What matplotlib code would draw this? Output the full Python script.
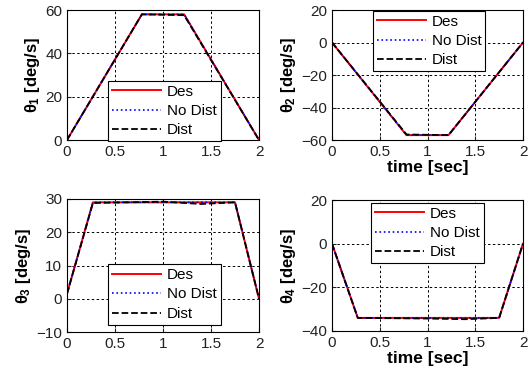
import matplotlib.pyplot as plt

# tempo dos pontos de quebra (s)
t1 = [0, 0.78, 1.22, 2.0]
des1 = [0, 58, 58, 0]
nod1 = [0, 58, 58, 0]
dis1 = [0, 58, 57.6, 0]

t2 = [0, 0.78, 1.22, 2.0]
des2 = [0, -57, -57, 0]
nod2 = [0, -57, -57, 0]
dis2 = [0, -56.6, -57, 0]

t3 = [0, 0.27, 1.0, 1.4, 1.75, 2.0]
des3 = [1.5, 29, 29, 29, 29, 0]
nod3 = [1.5, 29, 29, 29, 29, 0]
dis3 = [1.5, 28.8, 29.2, 28.5, 29, 0]

t4 = [0, 0.27, 1.0, 1.4, 1.75, 2.0]
des4 = [0, -34, -34, -34, -34, 0]
nod4 = [0, -34, -34, -34, -34, 0]
dis4 = [0, -34, -34.3, -34.6, -34, 0]

plt.rcParams['font.family'] = ['Liberation Sans', 'DejaVu Sans']
plt.rcParams['mathtext.fontset'] = 'custom'
plt.rcParams['mathtext.rm'] = 'Liberation Sans:bold'
plt.rcParams['mathtext.it'] = 'Liberation Sans:bold'
plt.rcParams['mathtext.bf'] = 'Liberation Sans:bold'

fig = plt.figure(figsize=(5.32, 3.69), dpi=100)
W, H = 532, 369

def eixo(x0, y0, x1, y1):
    return fig.add_axes([x0 / W, 1 - y1 / H, (x1 - x0) / W, (y1 - y0) / H])

paineis = [
    (eixo(67, 10, 259, 140), t1, des1, nod1, dis1, (0, 60), [0, 20, 40, 60], 1, False, (110, 82, 219, 140)),
    (eixo(332, 10, 523, 140), t2, des2, nod2, dis2, (-60, 20), [-60, -40, -20, 0, 20], 2, True, (375, 12, 483, 70)),
    (eixo(67, 199, 259, 332), t3, des3, nod3, dis3, (-10, 30), [-10, 0, 10, 20, 30], 3, False, (107, 266, 222, 323)),
    (eixo(332, 200, 523, 331), t4, des4, nod4, dis4, (-40, 20), [-40, -20, 0, 20], 4, True, (373, 203, 482, 263)),
]

for ax, t, d, n, s, ylim, yt, k, xl, leg in paineis:
    ax.plot(t, d, color='red', lw=1.4, label='Des')
    ax.plot(t, n, color='blue', lw=1.2, linestyle=':', label='No Dist')
    ax.plot(t, s, color='black', lw=1.3, linestyle='--', label='Dist')
    ax.set_xlim(0, 2)
    ax.set_ylim(*ylim)
    ax.set_xticks([0, 0.5, 1, 1.5, 2])
    ax.set_xticklabels(['0', '0.5', '1', '1.5', '2'])
    ax.set_yticks(yt)
    ax.grid(True, color='black', linestyle=(0, (2.5, 2.5)), linewidth=0.7)
    ax.tick_params(labelsize=11, direction='in', length=3, colors='#222222')
    for lado in ax.spines.values():
        lado.set_linewidth(0.8)
    ax.set_ylabel(r'$\theta_{%d}$ [deg/s]' % k, fontsize=12, fontweight='bold', labelpad=2)
    if xl:
        ax.set_xlabel('time [sec]', fontsize=12.5, fontweight='bold', labelpad=1)
    lx0, ly0, lx1, ly1 = leg
    bb = (lx0 / W, 1 - ly1 / H, (lx1 - lx0) / W, (ly1 - ly0) / H)
    lg = ax.legend(loc='center', bbox_to_anchor=bb, bbox_transform=fig.transFigure,
                   fontsize=11, frameon=True, fancybox=False, borderpad=0.25,
                   labelspacing=0.35, handlelength=3.2, handletextpad=0.4)
    lg.get_frame().set_edgecolor('black')
    lg.get_frame().set_linewidth(0.8)
    lg.get_frame().set_alpha(1)

fig.savefig('out.png', dpi=100)
